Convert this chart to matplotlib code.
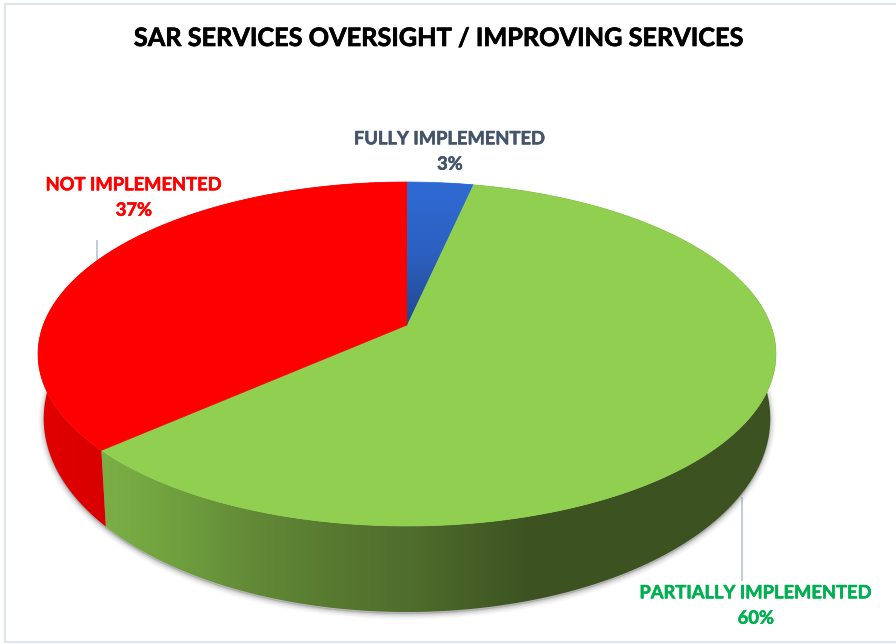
import numpy as np
import matplotlib
matplotlib.use('Agg')
import matplotlib.pyplot as plt
import matplotlib.patheffects as pe
from matplotlib.colors import LinearSegmentedColormap
from matplotlib.patches import Polygon, Rectangle

title = 'SAR SERVICES OVERSIGHT / IMPROVING SERVICES'
labels = ['FULLY IMPLEMENTED', 'PARTIALLY IMPLEMENTED', 'NOT IMPLEMENTED']
values = [3.4, 60.0, 36.6]
top_colors = ['#2f6ad4', '#90cf50', '#ff0000']
text_colors = ['#44546a', '#00b050', '#ff0000']
label_pos = [(450, 151.5), (756, 605.5), (134, 197.5)]
leaders = [None, ((742, 742), (497, 581)), ((97, 97), (240, 262))]

CX = 407
TOP = dict(y0=325, a=363.7, b=167.1, k=0.1686)
LOW = dict(y0=385.5, a=358.0, b=188.0, k=0.17)


def project(t, y0, a, b, k):
    # t clockwise from the back of the disc, perspective view of a circle
    u, v = np.sin(t), np.cos(t)
    d = 1 + k * v
    return CX + a * u / d, y0 - b * v / d


def arc(start, end, geom):
    t = np.linspace(start, end, 300)
    return np.column_stack(project(t, **geom))


def hgrad(ax, stops, clip, x0=38, x1=776):
    cmap = LinearSegmentedColormap.from_list('g', stops)
    g = np.linspace(0, 1, 512).reshape(1, -1)
    im = ax.imshow(g, cmap=cmap, extent=(x0, x1, 644, 0), aspect='auto',
                   interpolation='bilinear', zorder=3)
    im.set_clip_path(clip)


fig = plt.figure(figsize=(8.96, 6.44), dpi=100, facecolor='white')
ax = fig.add_axes([0, 0, 1, 1])
ax.axis('off')

ax.add_patch(Rectangle((5, 4), 1000, 638, fc='white', ec='#e1e5ec', lw=1.6, zorder=0))

# soft shadow under the lower rim
low_all = arc(0, 2 * np.pi, LOW)
for lw, al in [(8, 0.03), (6, 0.05), (4, 0.08), (2, 0.12)]:
    ax.add_patch(Polygon(low_all + [0, 2], closed=True, fc='#555555', ec='#555555',
                         lw=lw, alpha=al, zorder=1))

edges = np.cumsum([0] + values) / sum(values) * 2 * np.pi

side_stops = {
    1: [(0, '#7fb347'), (0.095, '#7aae45'), (0.152, '#73a640'), (0.22, '#6b993c'),
        (0.287, '#628a37'), (0.396, '#587a30'), (0.504, '#4f6d2c'), (0.667, '#3c5321'),
        (1, '#3c5321')],
    2: [(0, '#e20000'), (0.1, '#d60000'), (1, '#d20000')],
}

# side walls first, the top face covers whatever is behind it
for i in (1, 2):
    up = arc(edges[i], edges[i + 1], TOP)
    lo = arc(edges[i], edges[i + 1], LOW)
    wall = Polygon(np.vstack([up, lo[::-1]]), closed=True, fc='none', ec='none',
                   transform=ax.transData)
    ax.add_patch(wall)
    hgrad(ax, side_stops[i], wall)

# top face
apex = np.array([[CX, TOP['y0']]])
for i, col in enumerate(top_colors):
    pts = np.vstack([apex, arc(edges[i], edges[i + 1], TOP)])
    if i == 0:
        wedge = Polygon(pts, closed=True, fc='#2f6ad4', ec='#2f6ad4', lw=0.5, zorder=4)
        ax.add_patch(wedge)
        cmap = LinearSegmentedColormap.from_list('b', ['#2f6ad4', '#2c60c0', '#22488f'])
        im = ax.imshow(np.linspace(0, 1, 256).reshape(-1, 1), cmap=cmap,
                       extent=(380, 500, 325, 183), aspect='auto',
                       interpolation='bilinear', zorder=4.1)
        im.set_clip_path(wedge)
    else:
        ax.add_patch(Polygon(pts, closed=True, fc=col, ec=col, lw=0.5, zorder=4))

for line in leaders:
    if line:
        ax.plot(line[0], line[1], color='#bcc7d8', lw=1.3, zorder=0.5, solid_capstyle='butt')

fam = ['Lato', 'DejaVu Sans']
ax.text(438, 38.5, title, ha='center', va='center', fontsize=18.2, fontweight='bold',
        color='black', family=fam, zorder=6,
        path_effects=[pe.withStroke(linewidth=0.5, foreground='black')])
for lab, val, col, pos in zip(labels, values, text_colors, label_pos):
    ax.text(pos[0], pos[1], '{}\n{:.0f}%'.format(lab, val), ha='center', va='center',
            fontsize=13.2, fontweight='bold', color=col, family=fam, linespacing=1.6, zorder=6,
            path_effects=[pe.withStroke(linewidth=0.4, foreground=col)])

ax.set_xlim(0, 896)
ax.set_ylim(644, 0)
fig.savefig('out.png', dpi=100)
